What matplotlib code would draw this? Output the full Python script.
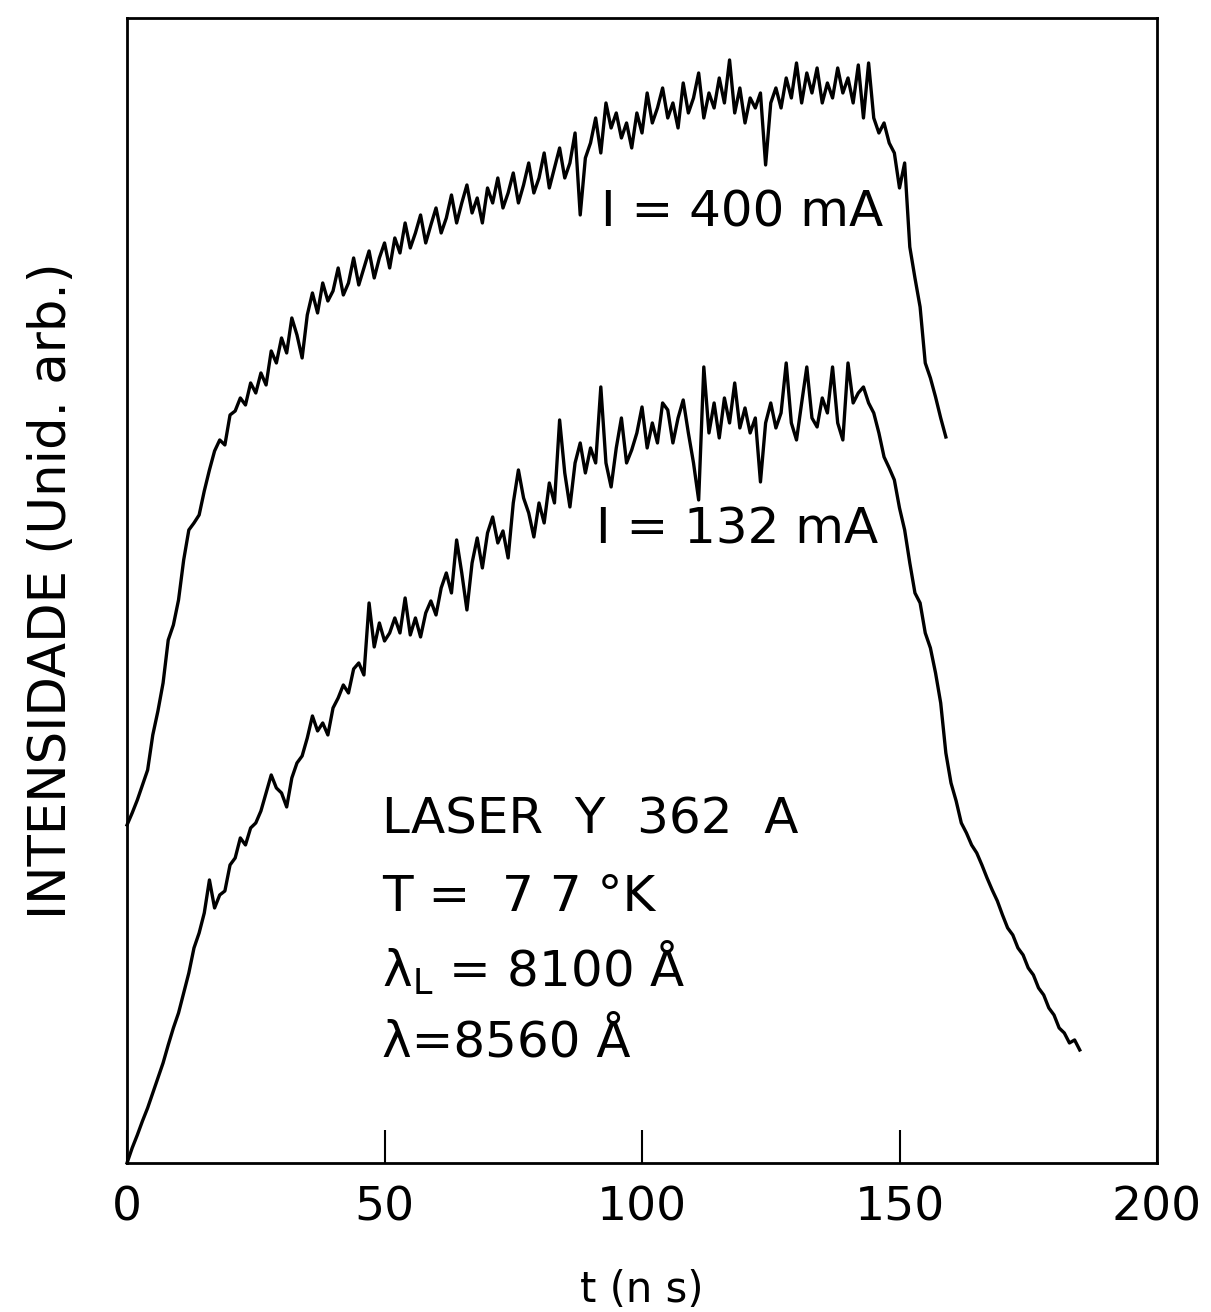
import matplotlib
matplotlib.use("Agg")
import matplotlib.pyplot as plt

# time axis (ns) for both traces, 1 ns steps
t_400 = list(range(0, 160))
t_132 = list(range(0, 186))

# I = 400 mA trace (arb. units)
i_400 = [
    338, 350, 363, 378, 393, 428, 452, 480, 523, 538,
    563, 603, 633, 640, 648, 672, 693, 712, 723, 718,
    748, 752, 765, 758, 780, 770, 790, 778, 812, 800,
    825, 810, 845, 828, 805, 848, 870, 850, 880, 862,
    872, 895, 868, 880, 905, 878, 895, 912, 885, 905,
    920, 895, 925, 910, 940, 915, 930, 948, 920, 938,
    955, 930, 945, 968, 940, 960, 978, 950, 965, 940,
    975, 960, 985, 955, 970, 990, 960, 978, 1000, 970,
    985, 1010, 975, 995, 1015, 985, 1000, 1030, 948, 1005,
    1020, 1045, 1010, 1060, 1035, 1050, 1025, 1040, 1015, 1050,
    1030, 1070, 1040, 1055, 1075, 1045, 1060, 1035, 1080, 1050,
    1065, 1090, 1045, 1070, 1055, 1085, 1060, 1103, 1050, 1075,
    1040, 1065, 1055, 1070, 998, 1060, 1075, 1055, 1085, 1065,
    1100, 1060, 1090, 1070, 1095, 1060, 1080, 1065, 1095, 1070,
    1085, 1060, 1098, 1045, 1100, 1045, 1030, 1040, 1020, 1010,
    975, 1000, 916, 885, 856, 800, 785, 766, 745, 726,
]

# I = 132 mA trace (arb. units)
i_132 = [
    0, 15, 28, 42, 55, 70, 85, 100, 118, 135,
    150, 170, 190, 215, 230, 250, 283, 255, 268, 272,
    298, 305, 325, 318, 335, 340, 352, 370, 388, 375,
    370, 356, 385, 400, 407, 425, 447, 432, 440, 428,
    455, 465, 478, 470, 494, 500, 488, 560, 516, 540,
    522, 530, 545, 530, 565, 528, 545, 526, 550, 562,
    548, 575, 590, 570, 623, 590, 553, 600, 625, 595,
    630, 646, 620, 632, 605, 660, 693, 665, 650, 626,
    660, 640, 680, 660, 743, 690, 656, 700, 720, 690,
    715, 700, 776, 700, 676, 715, 745, 700, 713, 730,
    756, 715, 740, 720, 760, 753, 720, 745, 763, 730,
    700, 663, 796, 730, 760, 725, 765, 740, 780, 735,
    755, 730, 745, 681, 740, 760, 735, 750, 800, 740,
    723, 760, 796, 745, 736, 765, 750, 796, 740, 723,
    800, 760, 770, 776, 760, 750, 730, 706, 695, 683,
    655, 633, 600, 570, 560, 530, 515, 490, 460, 410,
    380, 362, 340, 330, 318, 310, 298, 285, 273, 262,
    248, 235, 228, 215, 208, 195, 188, 175, 168, 155,
    148, 135, 130, 120, 123, 113,
]

x_ticks = [0, 50, 100, 150, 200]

fig = plt.figure(figsize=(12.11, 13.12), dpi=100)
ax = fig.add_axes([0.1049, 0.1136, 0.8505, 0.8727])

ax.plot(t_400, i_400, color="black", lw=2.4, clip_on=False)
ax.plot(t_132, i_132, color="black", lw=2.4, clip_on=False)

ax.set_xlim(0, 200)
ax.set_ylim(0, 1145)

ax.set_xticks(x_ticks)
ax.set_xticklabels([str(v) for v in x_ticks])
ax.set_yticks([])
ax.tick_params(axis="x", direction="in", length=24, width=1.5, pad=16,
               labelsize=34)
for sp in ax.spines.values():
    sp.set_linewidth(2.0)

ax.set_xlabel("t (n s)", fontsize=30, labelpad=28)
ax.set_ylabel("INTENSIDADE (Unid. arb.)", fontsize=37, labelpad=36)

kw = dict(fontsize=36, va="center", ha="left")
ax.text(92, 1163 - 213, "I = 400 mA", **kw)
ax.text(91, 1163 - 530, "I = 132 mA", **kw)

ax.text(49.5, 1163 - 820, "LASER  Y  362  A", **kw)
ax.text(49.5, 1163 - 897, "T =  7 7 °K", **kw)
ax.text(49.5, 1163 - 968, "λ$_\\mathrm{L}$ = 8100 Å", **kw)
ax.text(49.5, 1163 - 1043, "λ=8560 Å", **kw)

fig.savefig("out.png", dpi=100)
